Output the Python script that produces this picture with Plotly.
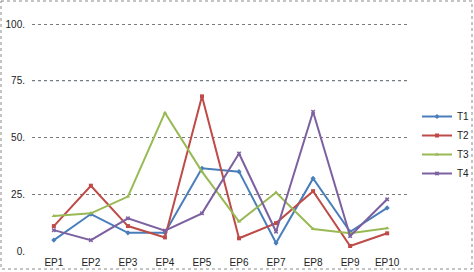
import plotly.graph_objects as go

categories = ["EP1", "EP2", "EP3", "EP4", "EP5", "EP6", "EP7", "EP8", "EP9", "EP10"]
t1 = [4.8, 16.3, 8.0, 8.0, 36.5, 35.0, 3.5, 32.0, 8.5, 19.0]
t2 = [11.0, 28.8, 11.0, 6.0, 68.2, 5.6, 12.3, 26.4, 2.2, 7.8]
t3 = [15.4, 16.6, 24.0, 61.0, 35.0, 13.0, 25.8, 9.7, 7.8, 10.0]
t4 = [9.2, 4.8, 14.4, 9.0, 16.6, 43.0, 8.5, 61.4, 6.6, 22.8]
series_names = ["T1", "T2", "T3", "T4"]
y_ticks = [0, 25, 50, 75, 100]
y_tick_labels = ["0.", "25.", "50.", "75.", "100."]

colors = ["#4A7EBB", "#BE4B48", "#98B954", "#7D60A0"]
symbols = ["diamond", "square", "triangle-up", "x"]

W, H = 474, 272
ml, mr, mt, mb = 32, 65, 22, 21
pw, ph = W - ml - mr, H - mt - mb

fig = go.Figure()
for name, vals, c, s in zip(series_names, [t1, t2, t3, t4], colors, symbols):
    fig.add_trace(go.Scatter(
        x=categories, y=vals, name=name, mode="lines+markers",
        line=dict(color=c, width=2),
        marker=dict(symbol=s, size=4, color=c),
    ))

def px(x):
    return (x - ml) / pw

def py(y):
    return (H - mb - y) / ph

shapes = [
    dict(type="rect", xref="paper", yref="paper",
         x0=px(1), x1=px(472), y0=py(1), y1=py(269),
         line=dict(color="#8a8a8a", width=1, dash="dot"), fillcolor="rgba(0,0,0,0)", layer="below"),
    dict(type="line", xref="paper", yref="y", x0=0, x1=1, y0=75, y1=75,
         line=dict(color="#9cc0cc", width=1, dash="dot"), layer="below"),
]

fig.update_layout(
    width=W, height=H,
    margin=dict(l=ml, r=mr, t=mt, b=mb, autoexpand=False),
    paper_bgcolor="white", plot_bgcolor="white",
    font=dict(family="Liberation Sans, Arial, sans-serif", size=10, color="#222"),
    xaxis=dict(type="category", showgrid=False, zeroline=False, showline=False,
               ticks="", tickfont=dict(size=10), automargin=False,
               ticklabelstandoff=4),
    yaxis=dict(range=[0, 101], tickvals=y_ticks, ticktext=y_tick_labels,
               showgrid=True, gridcolor="#7a7a7a", griddash="dot", gridwidth=1,
               zeroline=False, showline=False, ticks="", tickfont=dict(size=10),
               automargin=False, ticklabelstandoff=6),
    legend=dict(x=px(417), y=py(102), xanchor="left", yanchor="top",
                font=dict(size=10), itemwidth=30, tracegroupgap=0,
                bgcolor="rgba(0,0,0,0)"),
    shapes=shapes,
)

fig.write_html("out.html", config={"displayModeBar": False},
               post_script="document.body.style.margin='0';")
